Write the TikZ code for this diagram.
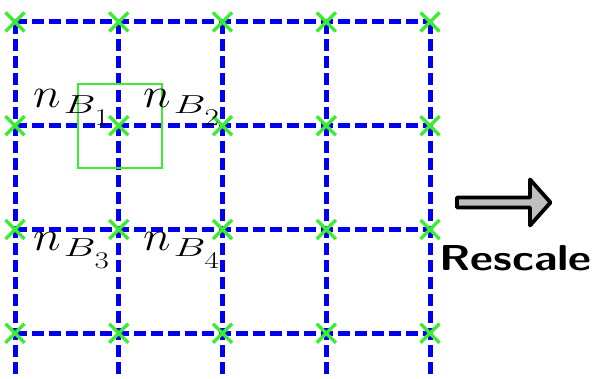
\RequirePackage{fix-cm}
\documentclass[tikz,border=0pt]{standalone}
\usepackage{graphicx}
\definecolor{gridblue}{RGB}{0,0,240}
\definecolor{crossgreen}{RGB}{60,235,50}
\newcommand{\nlab}[1]{\scalebox{1.12}[1]{\fontsize{42}{50}\selectfont$n$}\kern3pt\raisebox{-6pt}{\scalebox{1.55}[1]{\fontsize{26}{30}\selectfont$B$}}\kern-1pt\raisebox{-18pt}{\scalebox{1.3}[1]{\fontsize{24}{28}\selectfont #1}}}
\tikzset{
  gridline/.style={draw=gridblue, line width=5pt, dash pattern=on 12pt off 5pt},
  crossmark/.style={draw=crossgreen, line width=3.5pt},
  lbl/.style={inner sep=0pt, anchor=base west},
  boxsq/.style={draw=crossgreen, line width=1.5pt},
  bigarrow/.style={draw=black, line width=3.8pt, line join=round, fill=gray!50},
}
\begin{document}
\begin{tikzpicture}[x=1pt,y=-1pt]
\useasboundingbox (0,0) rectangle (594,379);
% grid coordinates
\foreach \i/\x in {0/15,1/118.75,2/222.5,3/326.25,4/430} {
  \foreach \j/\y in {0/22,1/125.75,2/229.5,3/333.25} {
    \coordinate (p\i\j) at (\x,\y);
  }
  \coordinate (b\i) at (\x,379);
}
% vertical lines
\foreach \i in {0,...,4} { \draw[gridline] (p\i0) -- (b\i); }
% horizontal lines
\foreach \j in {0,...,3} { \draw[gridline] (p0\j) -- (p4\j); }
% crosses
\foreach \i in {0,...,4} {
  \foreach \j in {0,...,3} {
    \draw[crossmark] ([shift={(-9.5,-9.5)}]p\i\j) -- ([shift={(9.5,9.5)}]p\i\j)
                     ([shift={(-9.5,9.5)}]p\i\j) -- ([shift={(9.5,-9.5)}]p\i\j);
  }
}
% green square
\node[boxsq, minimum width=84pt, minimum height=84pt, inner sep=0pt] (sq) at (120,126) {};
% labels
\node[lbl] (nb1) at (33,108) {\nlab{1}};
\node[lbl] (nb2) at (143,108) {\nlab{2}};
\node[lbl] (nb3) at (33,251) {\nlab{3}};
\node[lbl] (nb4) at (143,251) {\nlab{4}};
% arrow
\draw[bigarrow] (457,197.5) -- (530,197.5) -- (530,179.5) -- (550.5,202.5) -- (530,225.5) -- (530,207.5) -- (457,207.5) -- cycle;
% Rescale
\node[inner sep=0pt, anchor=base west] (resc) at (439,270) {\scalebox{1.24}[1]{\fontsize{36}{43}\selectfont\sffamily\bfseries Rescale}};
\end{tikzpicture}
\end{document}
